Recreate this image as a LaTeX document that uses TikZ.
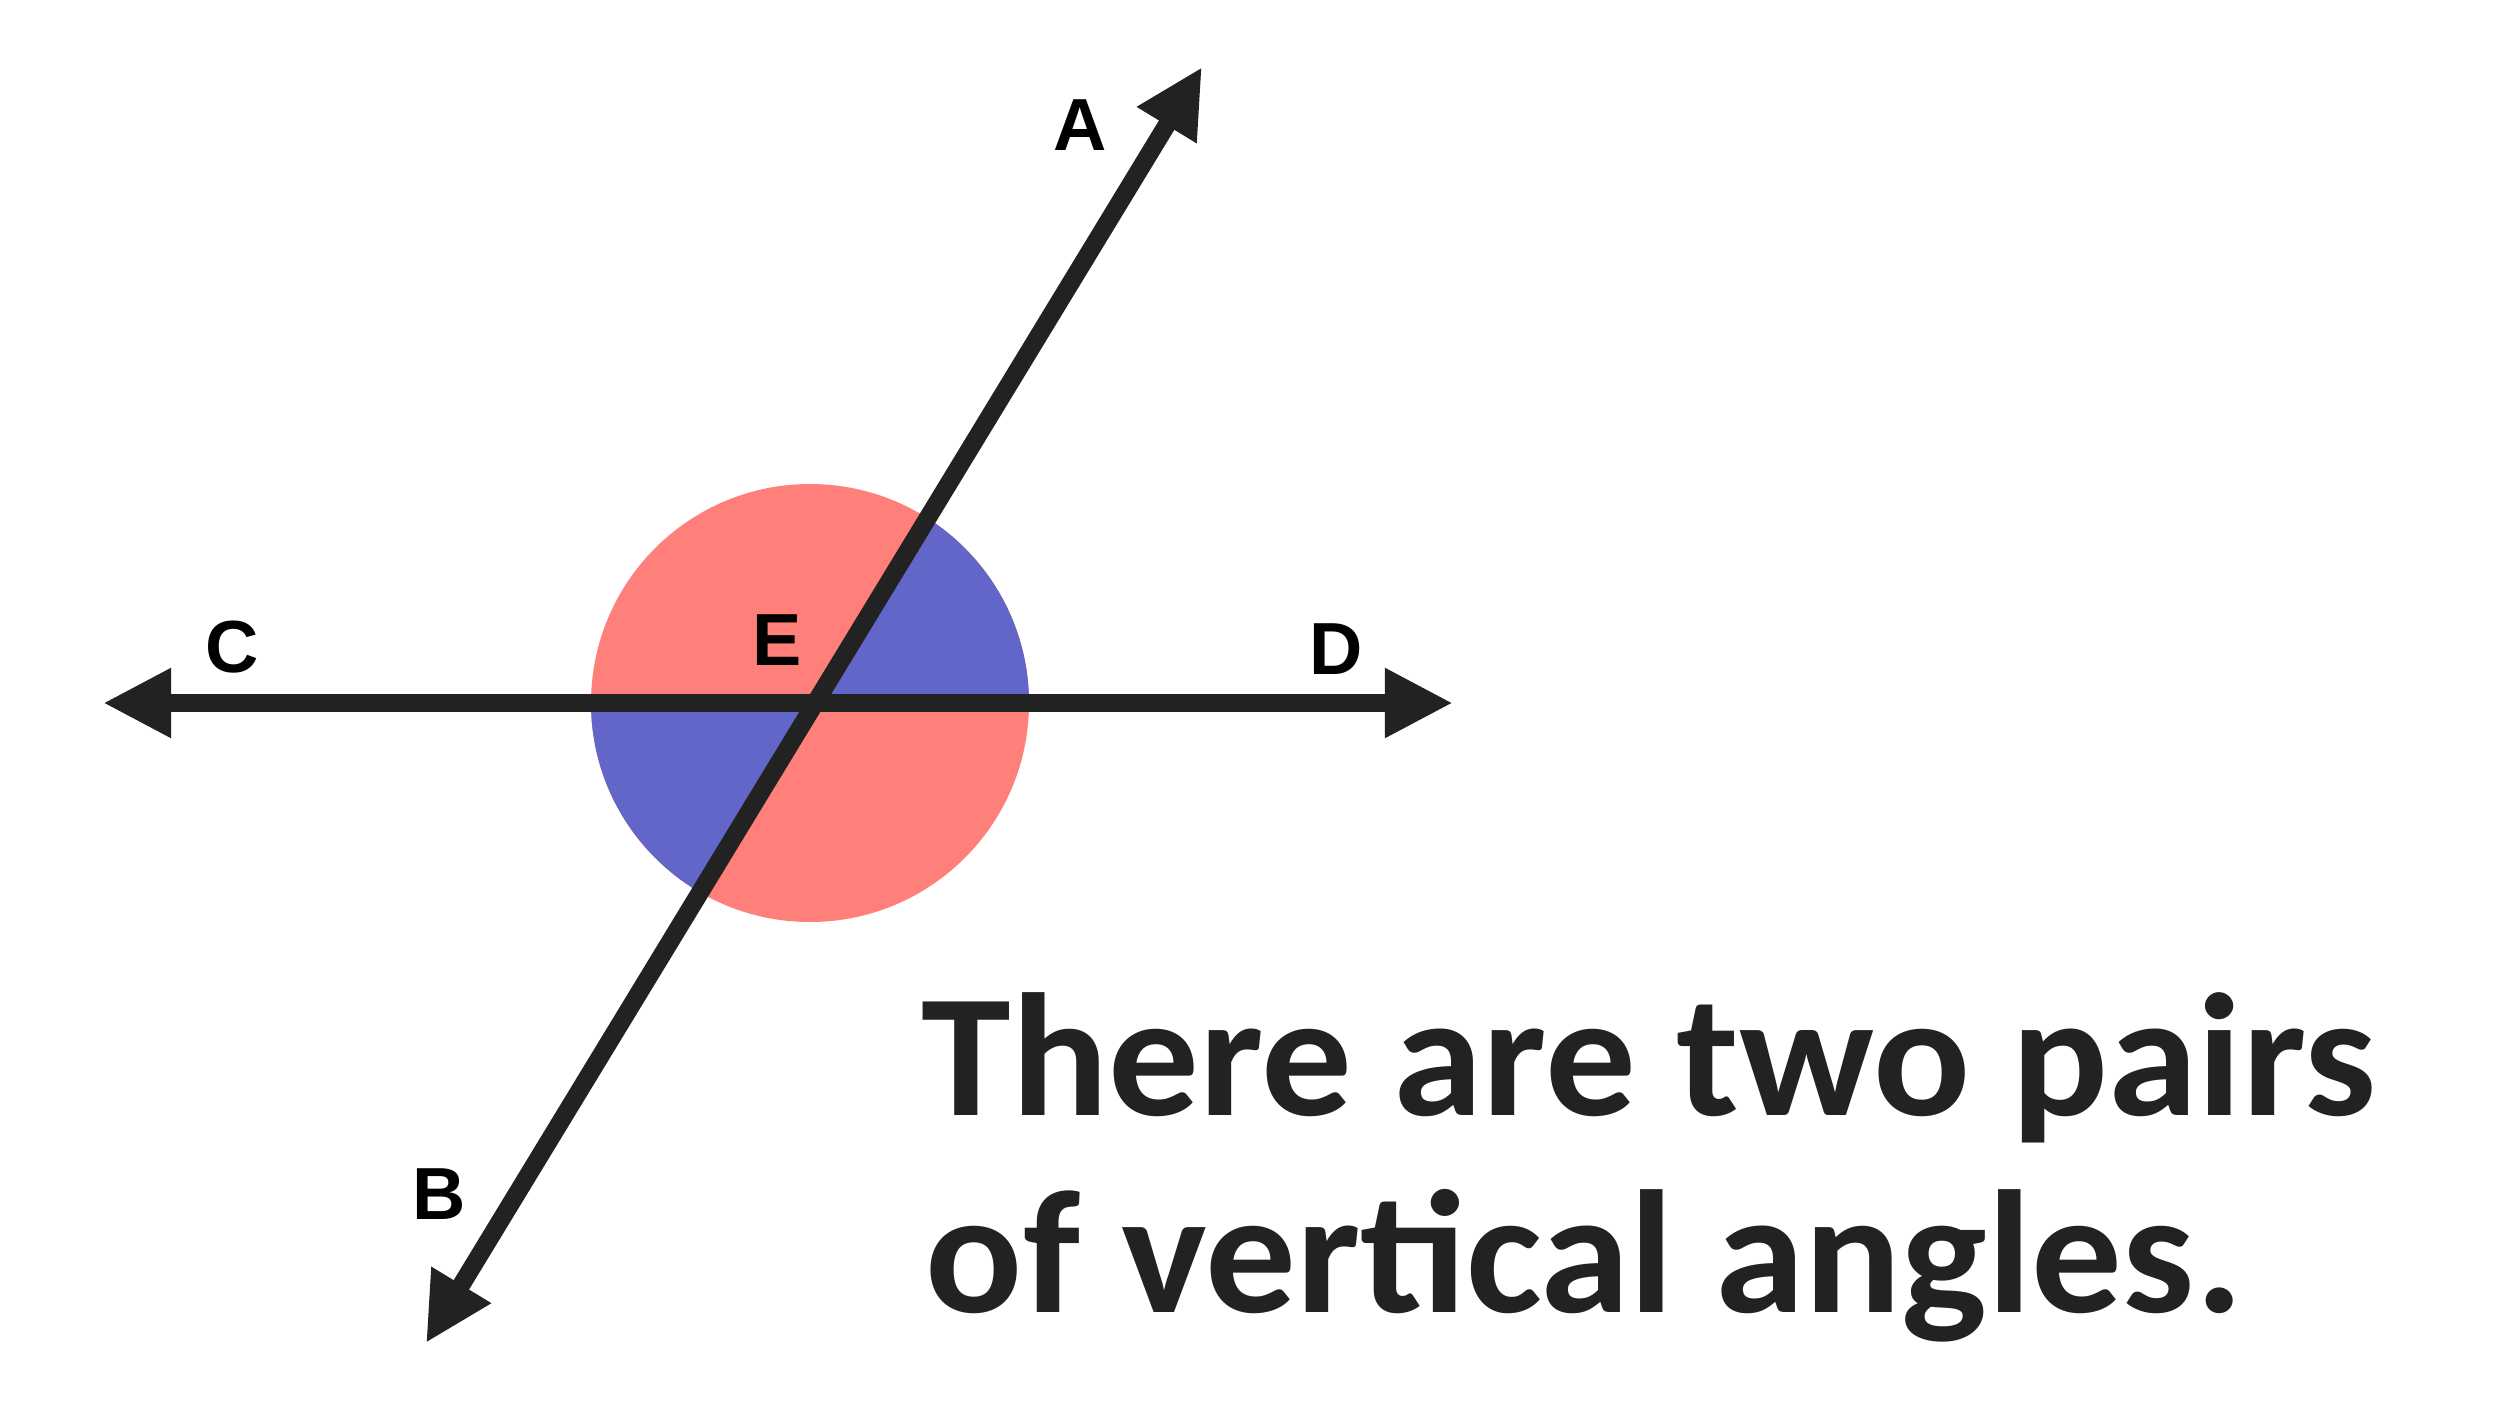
\documentclass[tikz,border=0pt]{standalone}
\usepackage{fontspec}
\setmainfont{Carlito}
\newfontfamily\captionfont[FakeStretch=1.033]{Carlito}
\newfontfamily\labelfont{Liberation Sans}
\usetikzlibrary{arrows.meta}
\definecolor{ink}{HTML}{222222}
\definecolor{wedgered}{HTML}{FF7F7B}
\definecolor{wedgeblue}{HTML}{6366C9}
\begin{document}
\begin{tikzpicture}[x=0.01cm,y=-0.01cm,
  ray/.style={draw=ink, line width=0.18cm, {Triangle[length=0.68cm,width=0.65cm]}-{Triangle[length=0.68cm,width=0.65cm]}},
  ptlabel/.style={font=\labelfont\bfseries\fontsize{21}{24}\selectfont, inner sep=0pt, text=black},
  caption/.style={font=\captionfont\bfseries\fontsize{49.8}{56}\selectfont, text=ink, inner sep=0pt, anchor=base west}]
\useasboundingbox (0,0) rectangle (2500,1406);
% key points
\coordinate (E) at (816,703);
\coordinate (Ctip) at (103,703);
\coordinate (Dtip) at (1453,703);
\coordinate (Atip) at (1202,67);
\coordinate (Btip) at (426,1343);
\coordinate (O) at (810,703);
% coloured angles
\fill[wedgered] (O) circle (219);
\begin{scope}
  \clip (O) circle (219);
  \fill[wedgeblue] (E) -- (1600,703) -- (Atip) -- cycle;
  \fill[wedgeblue] (E) -- (0,703) -- (Btip) -- cycle;
\end{scope}
% lines
\draw[ray] (Ctip) -- (Dtip);
\draw[ray] (Btip) -- (Atip);
% labels
\node[ptlabel] (A) at (1080,125) {A};
\node[ptlabel] (B) at (439,1194) {B};
\node[ptlabel] (C) at (232,647) {C};
\node[ptlabel] (D) at (1336,649) {D};
\node[ptlabel] (Elab) at (777,640) {E};
% caption
\node[caption] (cap1) at (921,1115) {There are two pairs};
\node[caption] (cap2) at (925,1312) {of vertical angles.};
\end{tikzpicture}
\end{document}
